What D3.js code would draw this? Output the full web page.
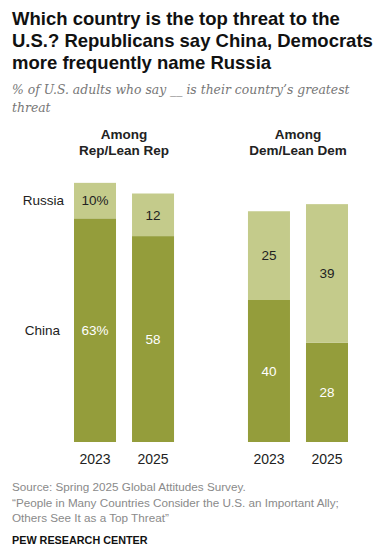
<!DOCTYPE html>
<html>
<head>
<meta charset="utf-8">
<script src="https://cdn.jsdelivr.net/npm/d3@7"></script>
<style>
  body { margin: 0; background: #fff; }
  svg { display: block; }
</style>
</head>
<body>
<svg id="chart" width="375" height="554"></svg>
<script>
// data
const groups = ["Among|Rep/Lean Rep", "Among|Dem/Lean Dem"];
const years = ["2023", "2025"];
const china = [[63, 58], [40, 28]];
const russia = [[10, 12], [25, 39]];

const svg = d3.select("#chart");
const darkColor = "#949d3b";
const lightColor = "#c4cb8b";
const sans = "Liberation Sans, Arial, sans-serif";

// title + subtitle
const title = svg.append("text")
    .attr("font-family", sans)
    .attr("font-weight", "bold")
    .attr("font-size", 18.5)
    .attr("fill", "#111");
["Which country is the top threat to the", "U.S.? Republicans say China, Democrats", "more frequently name Russia"]
    .forEach((t, i) => title.append("tspan").attr("x", 12).attr("y", 25 + i * 22).text(t));

const sub = svg.append("text")
    .attr("font-family", "DejaVu Serif, Georgia, serif")
    .attr("font-style", "italic")
    .attr("font-size", 12.4)
    .attr("fill", "#777");
["% of U.S. adults who say __ is their country\u2019s greatest", "threat"]
    .forEach((t, i) => sub.append("tspan").attr("x", 12).attr("y", 94 + i * 18).text(t));

// scales
const y = d3.scaleLinear().domain([0, 100]).range([442, 87]);
const outer = d3.scaleBand().domain(groups).range([74, 348]).paddingInner(0.425);
const inner = d3.scaleBand().domain(years).range([0, outer.bandwidth()]).paddingInner(0.276);

const g = svg.append("g");

groups.forEach((grp, gi) => {
    const gx = outer(grp);
    const hdr = g.append("text")
        .attr("text-anchor", "middle")
        .attr("font-family", sans)
        .attr("font-weight", "bold")
        .attr("font-size", 13.5)
        .attr("fill", "#222");
    grp.split("|").forEach((t, i) => hdr.append("tspan")
        .attr("x", gx + outer.bandwidth() / 2).attr("y", 139 + i * 16).text(t));

    years.forEach((yr, yi) => {
        const x = gx + inner(yr);
        const c = china[gi][yi];
        const r = russia[gi][yi];
        g.append("rect").attr("x", x).attr("width", inner.bandwidth())
            .attr("y", y(c)).attr("height", y(0) - y(c)).attr("fill", darkColor);
        g.append("rect").attr("x", x).attr("width", inner.bandwidth())
            .attr("y", y(c + r)).attr("height", y(c) - y(c + r)).attr("fill", lightColor);

        const first = gi === 0 && yi === 0;
        g.append("text").attr("x", x + inner.bandwidth() / 2)
            .attr("y", (y(0) + y(c)) / 2).attr("dy", "0.35em")
            .attr("text-anchor", "middle")
            .attr("font-family", sans)
            .attr("font-size", 13.5).attr("fill", "#fff")
            .text(first ? c + "%" : c);
        g.append("text").attr("x", x + inner.bandwidth() / 2)
            .attr("y", (y(c) + y(c + r)) / 2).attr("dy", "0.35em")
            .attr("text-anchor", "middle")
            .attr("font-family", sans)
            .attr("font-size", 13.5).attr("fill", "#222")
            .text(first ? r + "%" : r);

        g.append("text").attr("x", x + inner.bandwidth() / 2)
            .attr("y", 459).attr("dy", "0.35em")
            .attr("text-anchor", "middle")
            .attr("font-family", sans)
            .attr("font-size", 14).attr("fill", "#222")
            .text(yr);
    });
});

// series labels next to first bar
const firstX = outer(groups[0]) + inner(years[0]);
g.append("text").attr("x", firstX - 10).attr("y", (y(china[0][0]) + y(china[0][0] + russia[0][0])) / 2)
    .attr("dy", "0.35em").attr("text-anchor", "end")
    .attr("font-family", sans)
    .attr("font-size", 13.5).attr("fill", "#222").text("Russia");
g.append("text").attr("x", firstX - 14).attr("y", (y(0) + y(china[0][0])) / 2)
    .attr("dy", "0.35em").attr("text-anchor", "end")
    .attr("font-family", sans)
    .attr("font-size", 13.5).attr("fill", "#222").text("China");

// footer
const src = svg.append("text")
    .attr("font-family", sans)
    .attr("font-size", 11.7)
    .attr("fill", "#8a8a8a");
["Source: Spring 2025 Global Attitudes Survey.",
 "\u201cPeople in Many Countries Consider the U.S. an Important Ally;",
 "Others See It as a Top Threat\u201d"]
    .forEach((t, i) => src.append("tspan").attr("x", 12).attr("y", 491 + i * 15.5).text(t));

svg.append("text").attr("x", 12).attr("y", 544)
    .attr("font-family", sans)
    .attr("font-weight", "bold")
    .attr("font-size", 10.8)
    .attr("fill", "#111")
    .text("PEW RESEARCH CENTER");
</script>
</body>
</html>
